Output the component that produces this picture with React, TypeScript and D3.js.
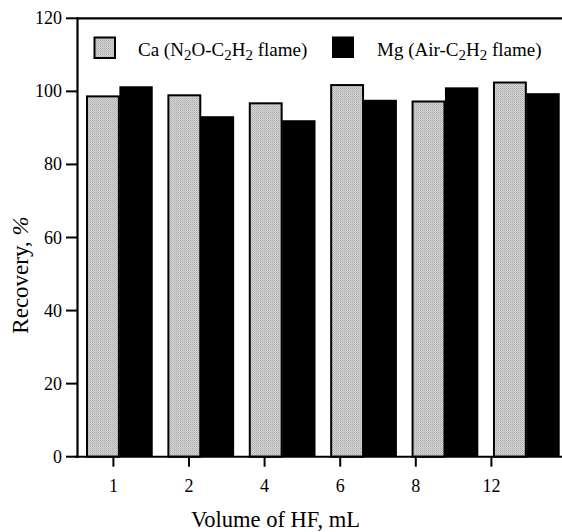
import React from "react";
import * as d3 from "d3";

const categories = ["1", "2", "4", "6", "8", "12"];
const caValues = [98.9, 99.2, 97.0, 102.0, 97.5, 102.7];
const mgValues = [101.4, 93.2, 92.1, 97.7, 101.1, 99.5];
const yTicks = [0, 20, 40, 60, 80, 100, 120];
const seriesNames = ["Ca", "Mg"];

const W = 562;
const H = 532;
const FONT = "Liberation Serif, Times New Roman, serif";

export default function App() {
  const y = d3.scaleLinear().domain([0, 120]).range([456.7, 18.3]);
  // tick positions (axis categories)
  const xTick = d3.scaleBand<string>().domain(categories).range([75.6, 529.2]).padding(0);
  // bar groups (offset in original figure)
  const xGroup = d3
    .scaleBand<string>()
    .domain(categories)
    .range([86, 559.7])
    .paddingInner(0.18)
    .paddingOuter(0);
  const xSub = d3.scaleBand<string>().domain(seriesNames).range([0, xGroup.bandwidth()]);

  const axisX = 77.5;
  const yTop = y(120);
  const y0 = y(0);
  const ts = { fontFamily: FONT } as React.CSSProperties;

  return (
    <svg
      width={W}
      height={H}
      viewBox={`0 0 ${W} ${H}`}
      style={{ position: "absolute", left: 0, top: 0, background: "#fff", fontFamily: FONT }}
    >
      <defs>
        <pattern id="dots" width="2" height="2" patternUnits="userSpaceOnUse">
          <rect width="2" height="2" fill="#d6d6d6" />
          <rect width="1" height="1" fill="#acacac" />
          <rect x="1" y="1" width="1" height="1" fill="#bcbcbc" />
        </pattern>
      </defs>

      {/* bars */}
      {categories.map((c, i) => {
        const gx = xGroup(c)!;
        const caX = gx + xSub("Ca")!;
        const mgX = gx + xSub("Mg")!;
        const bw = xSub.bandwidth();
        return (
          <g key={c}>
            <rect x={mgX} y={y(mgValues[i])} width={bw} height={y0 - y(mgValues[i])} fill="#000" />
            <rect
              x={caX + 1}
              y={y(caValues[i]) + 1}
              width={bw - 1.5}
              height={y0 - y(caValues[i]) - 1}
              fill="url(#dots)"
              stroke="#000"
              strokeWidth={2}
            />
          </g>
        );
      })}

      {/* frame lines */}
      <line x1={axisX} x2={W} y1={yTop} y2={yTop} stroke="#000" strokeWidth={2.2} />
      <line x1={axisX} x2={axisX} y1={yTop - 1} y2={y0 + 1} stroke="#000" strokeWidth={2.2} />
      <line x1={75} x2={W} y1={y0} y2={y0} stroke="#000" strokeWidth={2} />

      {/* y ticks */}
      {yTicks.map((t) => (
        <g key={t}>
          <line x1={66} x2={axisX} y1={y(t)} y2={y(t)} stroke="#000" strokeWidth={2} />
          <text x={62} y={y(t) + 6} textAnchor="end" fontSize={18} style={ts}>
            {t}
          </text>
        </g>
      ))}

      {/* x ticks */}
      {categories.map((c) => {
        const cx = xTick(c)! + xTick.bandwidth() / 2;
        return (
          <g key={c}>
            <line x1={cx} x2={cx} y1={y0} y2={y0 + 10} stroke="#000" strokeWidth={2} />
            <text x={cx} y={491.5} textAnchor="middle" fontSize={18} style={ts}>
              {c}
            </text>
          </g>
        );
      })}

      {/* axis titles */}
      <text x={275.5} y={527} textAnchor="middle" fontSize={22.5} style={ts}>
        Volume of HF, mL
      </text>
      <text transform="translate(28,275) rotate(-90)" textAnchor="middle" fontSize={23} style={ts}>
        Recovery, <tspan fontStyle="italic">%</tspan>
      </text>

      {/* legend */}
      <rect x={94.5} y={37.5} width={20.5} height={20.5} fill="url(#dots)" stroke="#000" strokeWidth={2} />
      <text x={138} y={56} fontSize={19} style={ts}>
        Ca (N<tspan fontSize={15} dy={4}>2</tspan>
        <tspan dy={-4}>O-C</tspan>
        <tspan fontSize={15} dy={4}>2</tspan>
        <tspan dy={-4}>H</tspan>
        <tspan fontSize={15} dy={4}>2</tspan>
        <tspan dy={-4}> flame)</tspan>
      </text>
      <rect x={332} y={36.5} width={22} height={21.5} fill="#000" />
      <text x={377} y={56} fontSize={19} style={ts}>
        Mg (Air-C<tspan fontSize={15} dy={4}>2</tspan>
        <tspan dy={-4}>H</tspan>
        <tspan fontSize={15} dy={4}>2</tspan>
        <tspan dy={-4}> flame)</tspan>
      </text>
    </svg>
  );
}
